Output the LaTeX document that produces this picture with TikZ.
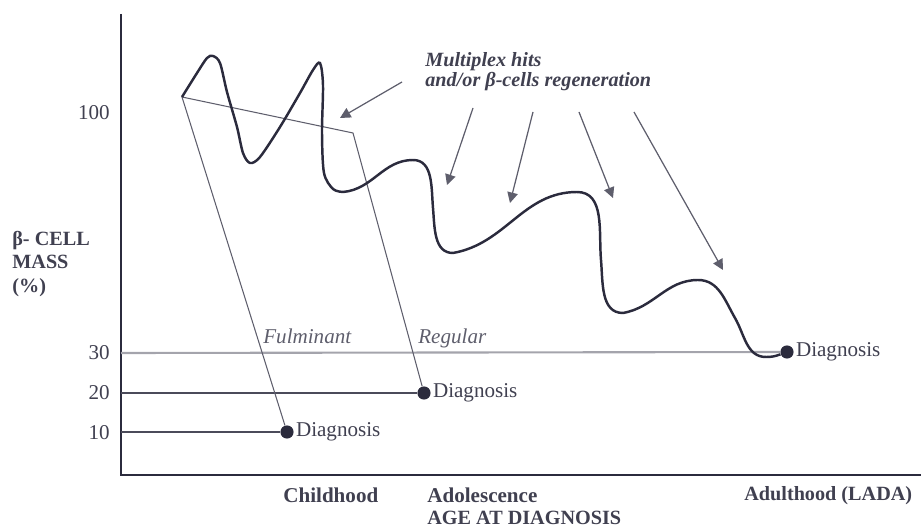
\documentclass[tikz,border=0pt]{standalone}
\usepackage{fontspec}
\setmainfont{Liberation Serif}
\usepackage{tikz}
\usetikzlibrary{positioning, arrows.meta}
\tikzset{>={Triangle[length=6pt, width=6pt]}}
\definecolor{ink}{HTML}{2B2B3D}
\definecolor{thinline}{HTML}{5E5E6C}
\definecolor{paleline}{HTML}{A4A4AC}
\tikzset{
  axis/.style={draw=ink, line width=1.6pt},
  level/.style={draw=ink!85, line width=1pt},
  pale/.style={draw=paleline, line width=1.2pt},
  route/.style={draw=thinline, line width=0.6pt},
  wave/.style={draw=ink, line width=1.4pt},
  hit/.style={color=thinline, line width=0.7pt, ->},
  dot/.style={circle, fill=ink, inner sep=0pt, minimum size=7.5pt},
  diag/.style={font=\fontsize{12}{14}\selectfont, text=ink!90, inner sep=1pt},
  tick/.style={font=\fontsize{12}{14}\selectfont, text=ink!90, anchor=east, inner sep=0pt},
  agelabel/.style={font=\bfseries\fontsize{12}{14}\selectfont, text=ink!90, inner sep=0pt},
  kind/.style={font=\itshape\fontsize{12}{14}\selectfont, text=thinline, inner sep=0pt},
}

\begin{document}
\begin{tikzpicture}[x=0.02cm, y=-0.02cm]
    \useasboundingbox (0,0) rectangle (921,530);

    \coordinate (ytop) at (121,14);
    \coordinate (orig) at (121,475);
    \coordinate (xend) at (921,475);
    \draw[axis] (ytop) -- (orig) -- (xend);

    \node[tick] (t100) at (110,113) {100};
    \node[tick] (t30) at (110,353) {30};
    \node[tick] (t20) at (110,393) {20};
    \node[tick] (t10) at (110,433) {10};
    \coordinate (y30) at (121,353);
    \coordinate (y20) at (121,393);
    \coordinate (y10) at (121,432);

    \node[align=left, anchor=west, inner sep=0pt,
      font=\bfseries\fontsize{11.5}{13.6}\selectfont, text=ink!90]
      (ylab) at (12,264) {β- CELL\\MASS\\(\%)};

    \node[dot] (dchild) at (287,432) {};
    \node[dot] (dadol) at (424,393) {};
    \node[dot] (dadult) at (787,352) {};
    \node[diag, right=0pt of dchild] (lchild) {Diagnosis};
    \node[diag, right=0pt of dadol] (ladol) {Diagnosis};
    \node[diag, right=0pt of dadult] (ladult) {Diagnosis};

    \draw[pale] (y30) -- (dadult);
    \draw[level] (y20) -- (dadol);
    \draw[level] (y10) -- (dchild);

    \coordinate (onset) at (182,97);
    \coordinate (bend) at (353,133);
    \draw[route] (onset) -- (dchild);
    \draw[route] (onset) -- (bend) -- (dadol);
    \node[kind, anchor=base west] (fulm) at (263,344) {Fulminant};
    \node[kind, anchor=base west] (regu) at (418,344) {Regular};

    \draw[wave] plot[smooth, tension=0.5] coordinates {
        (onset) (197,73) (207,58) (213,56) (220,63) (227,92) (237,127)
        (243,153) (250,163) (260,157) (280,127) (300,93) (313,70)
        (320,63) (323,85) (322,133) (324,173) (333,189) (343,192)}
      to[out=5,in=180] (413,160)
      to[out=0,in=95] (433,208)
      to[out=-85,in=180] (453,253)
      to[out=10,in=180] (577,192)
      to[out=0,in=95] (601,260)
      to[out=-85,in=180] (623,313)
      to[out=10,in=180] (698,280)
      to[out=0,in=120] (735,318)
      to[out=-60,in=180] (766,357)
      to[out=0,in=200] (dadult);

    \node[align=left, anchor=west, inner sep=0pt,
      font=\bfseries\itshape\fontsize{11.5}{11.5}\selectfont, text=ink!90]
      (hits) at (425,72) {Multiplex hits\\and/or β-cells regeneration};

    \coordinate (h1) at (402,82);  \coordinate (p1) at (340,118);
    \coordinate (h2) at (473,108); \coordinate (p2) at (447,185);
    \coordinate (h3) at (533,112); \coordinate (p3) at (510,203);
    \coordinate (h4) at (579,112); \coordinate (p4) at (613,198);
    \coordinate (h5) at (634,112); \coordinate (p5) at (723,270);
    \path[hit]
    (h1) edge (p1)
    (h2) edge (p2)
    (h3) edge (p3)
    (h4) edge (p4)
    (h5) edge (p5);

    \node[agelabel, anchor=west] (child) at (283,495) {Childhood};
    \node[agelabel, anchor=west] (adol) at (427,495) {Adolescence};
    \node[agelabel, anchor=west, font=\bfseries\fontsize{11.5}{14}\selectfont]
      (adult) at (744,496) {Adulthood (LADA)};
    \node[agelabel, anchor=west, font=\bfseries\fontsize{11.5}{14}\selectfont]
      (age) at (427,518) {AGE AT DIAGNOSIS};
  \end{tikzpicture}
\end{document}
